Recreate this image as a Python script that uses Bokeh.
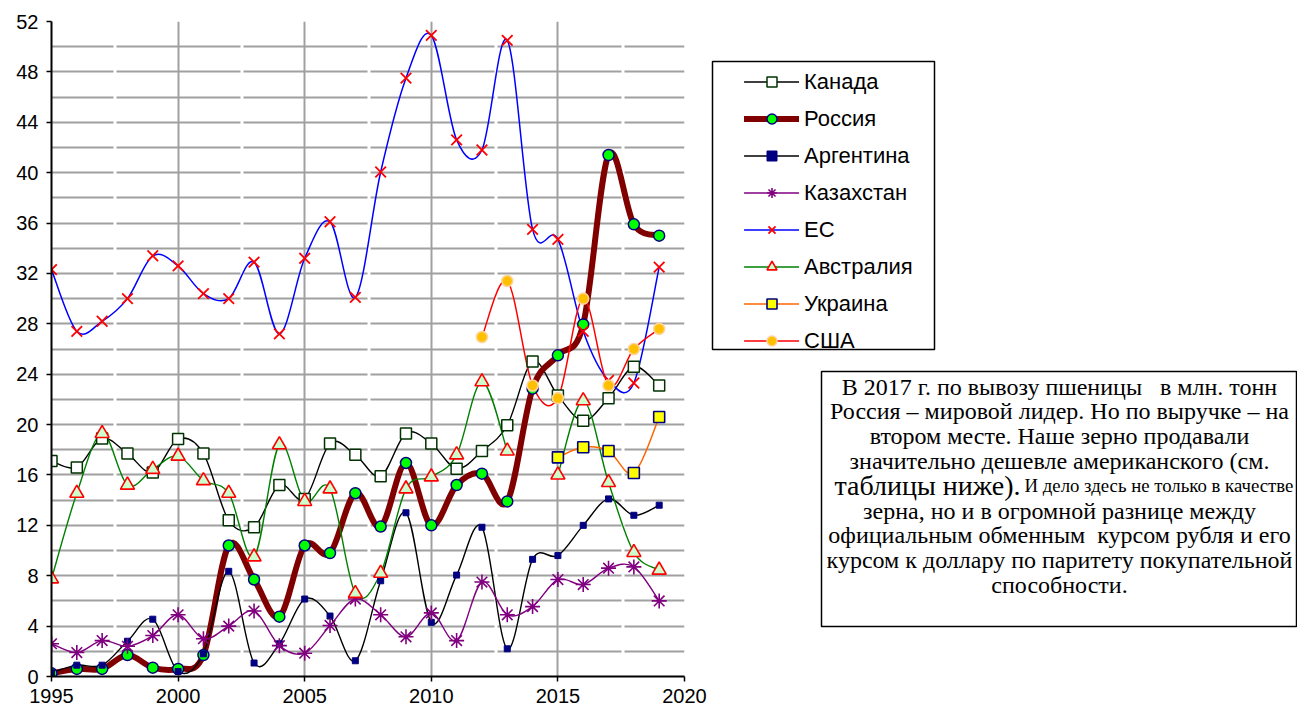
import math
from bokeh.plotting import figure
from bokeh.layouts import row
from bokeh.models import FixedTicker, Legend, LegendItem, Label, ColumnDataSource
from bokeh.embed import file_html
from bokeh.resources import INLINE

NAN = float("nan")

years = list(range(1995, 2020))
x_ticks = [1995, 2000, 2005, 2010, 2015, 2020]
y_ticks = list(range(0, 53, 4))

canada = [17.1, 16.6, 18.9, 17.7, 16.2, 18.85, 17.7, 12.4, 11.85, 15.2, 14.1, 18.5, 17.6,
          15.9, 19.3, 18.5, 16.5, 17.9, 19.95, 25.0, 22.3, 20.3, 22.1, 24.6, 23.1]
russia = [0.25, 0.6, 0.6, 1.7, 0.7, 0.6, 1.7, 10.4, 7.7, 4.75, 10.4, 9.8, 14.55,
          11.9, 16.95, 12.0, 15.2, 16.1, 13.9, 22.85, 25.5, 27.95, 41.4, 35.9, 35.0]
argentina = [0.3, 0.9, 0.9, 2.8, 4.55, 0.4, 1.8, 8.35, 1.07, 2.6, 6.15, 4.8, 1.25,
             7.6, 13.0, 4.3, 8.05, 11.85, 2.2, 9.3, 9.6, 12.0, 14.1, 12.8, 13.6]
kazakhstan = [2.6, 1.9, 2.85, 2.4, 3.25, 4.9, 3.0, 4.0, 5.2, 2.45, 1.85, 4.05, 6.15,
              4.9, 3.15, 5.05, 2.85, 7.5, 4.9, 5.55, 7.7, 7.3, 8.6, 8.7, 6.0]
eu = [32.3, 27.4, 28.2, 30.0, 33.4, 32.6, 30.4, 30.0, 32.9, 27.2, 33.2, 36.1, 30.1,
      40.05, 47.5, 50.9, 42.6, 41.8, 50.5, 35.5, 34.7, 27.4, 23.5, 23.3, 32.5]
australia = [7.75, 14.55, 19.3, 15.2, 16.45, 17.5, 15.55, 14.55, 9.5, 18.4, 13.9, 14.9, 6.6,
             8.2, 14.9, 15.85, 17.6, 23.4, 17.9, None, 16.0, 21.9, 15.4, 9.85, 8.45]
ukraine = [None] * 20 + [17.4, 18.2, 17.9, 16.15, 20.6]
usa = [None] * 17 + [26.95, 31.4, 23.1, 22.1, 30.0, 23.1, 26.0, 27.6]

note_lines = [
    "В 2017 г. по вывозу пшеницы\u00a0\u00a0 в млн. тонн",
    "Россия – мировой лидер. Но по выручке – на",
    "втором месте. Наше зерно продавали",
    "значительно дешевле американского (см.",
    None,
    "зерна, но и в огромной разнице между",
    "официальным обменным\u00a0 курсом рубля и его",
    "курсом к доллару по паритету покупательной",
    "способности.",
]
note_line5a = "таблицы ниже)."
note_line5b = "И дело здесь не только в качестве"

series = [
    # name, values, line color, line width, marker, size, fill, edge, edge width
    ("Канада", canada, "black", 1.4, "square", 11, "white", "#003300", 1.5),
    ("Россия", russia, "#800000", 6, "circle", 11, "#00ff00", "#000080", 1.5),
    ("Аргентина", argentina, "black", 1.4, "square", 6, "#000080", "#000080", 1),
    ("Казахстан", kazakhstan, "#800080", 1.4, "asterisk", 15, None, "#800080", 1.6),
    ("ЕС", eu, "#0000ff", 1.5, "x", 15, None, "#ff0000", 1.8),
    ("Австралия", australia, "#008000", 1.4, "triangle", 14, "#ccffcc", "#ff0000", 1.6),
    ("Украина", ukraine, "#ff6600", 1.5, "square", 11, "#ffff00", "#000080", 1.6),
    ("США", usa, "#ff0000", 1.5, "circle", 11, "#ffc000", "#ffd39a", 1.6),
]


def bezier_source(xs, ys):
    runs, cur = [], []
    for x, y in zip(xs, ys):
        if y is None:
            if cur:
                runs.append(cur)
                cur = []
        else:
            cur.append((x, y))
    if cur:
        runs.append(cur)
    d = dict(x0=[], y0=[], x1=[], y1=[], cx0=[], cy0=[], cx1=[], cy1=[])
    for run in runs:
        n = len(run)
        for i in range(n - 1):
            p0 = run[i - 1] if i > 0 else run[i]
            p1 = run[i]
            p2 = run[i + 1]
            p3 = run[i + 2] if i + 2 < n else run[i + 1]
            d["x0"].append(p1[0]); d["y0"].append(p1[1])
            d["x1"].append(p2[0]); d["y1"].append(p2[1])
            d["cx0"].append(p1[0] + (p2[0] - p0[0]) / 6.0)
            d["cy0"].append(p1[1] + (p2[1] - p0[1]) / 6.0)
            d["cx1"].append(p2[0] - (p3[0] - p1[0]) / 6.0)
            d["cy1"].append(p2[1] - (p3[1] - p1[1]) / 6.0)
    return ColumnDataSource(d)


FIG_H = 711
MAIN_W = 708
SIDE_W = 589
FRAME_H = 655
BORDER_TOP = 21

p = figure(frame_width=633, frame_height=FRAME_H, x_range=(1995, 2020), y_range=(0, 52),
           output_backend="svg", toolbar_location=None,
           min_border_left=51, min_border_right=MAIN_W - 51 - 633, min_border_top=BORDER_TOP,
           min_border_bottom=FIG_H - BORDER_TOP - FRAME_H,
           background_fill_color="white", border_fill_color="white", outline_line_color=None)

for ax in (p.xaxis[0], p.yaxis[0]):
    ax.axis_line_color = "black"
    ax.axis_line_width = 2
    ax.major_tick_line_color = "black"
    ax.major_tick_line_width = 1.5
    ax.major_tick_in = 0
    ax.major_tick_out = 5
    ax.minor_tick_line_color = None
    ax.major_label_text_font = "Liberation Sans"
    ax.major_label_text_font_size = "20px"
    ax.major_label_text_color = "black"
p.xaxis.ticker = FixedTicker(ticks=x_ticks)
p.yaxis.ticker = FixedTicker(ticks=y_ticks)
p.yaxis.major_label_standoff = 8
p.xaxis.major_label_standoff = 7

p.xgrid.ticker = FixedTicker(ticks=x_ticks[1:])
p.xgrid.grid_line_color = "#a0a0a0"
p.xgrid.grid_line_width = 2
p.ygrid.ticker = FixedTicker(ticks=list(range(2, 53, 2)))
p.ygrid.grid_line_color = "#a0a0a0"
p.ygrid.grid_line_width = 2
p.ygrid.grid_line_dash = "124 3"
p.ygrid.grid_line_dash_offset = 62

for name, vals, lc, lw, mk, sz, fc, ec, ew in series:
    src = bezier_source(years, vals)
    p.bezier(x0="x0", y0="y0", x1="x1", y1="y1", cx0="cx0", cy0="cy0", cx1="cx1", cy1="cy1",
             source=src, line_color=lc, line_width=lw, line_cap="round", line_join="round")

for name, vals, lc, lw, mk, sz, fc, ec, ew in series:
    yv = [NAN if v is None else v for v in vals]
    p.scatter(x=years, y=yv, marker=mk, size=sz, fill_color=fc, line_color=ec, line_width=ew)

# side panel: pixel-like data coordinates; its frame is aligned with the main frame
s = figure(frame_width=SIDE_W, frame_height=FRAME_H, x_range=(0, SIDE_W), y_range=(0, FRAME_H),
           output_backend="svg", toolbar_location=None, min_border_left=0, min_border_right=0,
           min_border_top=BORDER_TOP, min_border_bottom=FIG_H - BORDER_TOP - FRAME_H, title=None,
           background_fill_color="white", border_fill_color="white", outline_line_color=None)
s.axis.visible = False
s.grid.visible = False

B = 1 + BORDER_TOP + FRAME_H  # page y of the side frame's bottom edge

# legend frame
s.quad(left=[4], right=[226], top=[B - 62], bottom=[B - 350], fill_color="white",
       line_color="black", line_width=1.5)
# note frame
s.quad(left=[113], right=[SIDE_W - 1], top=[B - 372], bottom=[B - 627], fill_color="white",
       line_color="black", line_width=1.5)

items = []
for name, vals, lc, lw, mk, sz, fc, ec, ew in series:
    dl = s.line(x=[NAN, NAN], y=[NAN, NAN], line_color=lc, line_width=lw, line_cap="round")
    dm = s.scatter(x=[NAN], y=[NAN], marker=mk, size=sz, fill_color=fc, line_color=ec,
                   line_width=ew)
    items.append(LegendItem(label=name, renderers=[dl, dm]))

legend = Legend(items=items, location=(36, B - 354.5), border_line_color=None,
                background_fill_alpha=0, glyph_width=55, glyph_height=25, label_height=25,
                label_standoff=5, spacing=11, padding=10, margin=0,
                label_text_font="Liberation Sans", label_text_font_size="22px",
                label_text_color="black")
s.add_layout(legend)

cx = 351
for i, t in enumerate(note_lines):
    yy = B - (387 + 24.8 * i)
    if t is None:
        s.add_layout(Label(x=312, y=yy, text=note_line5a,
                           text_font="Liberation Serif", text_font_size="28px",
                           text_align="right", text_baseline="middle", text_color="black"))
        s.add_layout(Label(x=316, y=yy, text=note_line5b,
                           text_font="Liberation Serif", text_font_size="18.8px",
                           text_align="left", text_baseline="middle", text_color="black"))
    else:
        s.add_layout(Label(x=cx, y=yy, text=t,
                           text_font="Liberation Serif", text_font_size="24px",
                           text_align="center", text_baseline="middle", text_color="black"))

layout = row(p, s, spacing=0)
open("out.html", "w").write(file_html(layout, INLINE))
